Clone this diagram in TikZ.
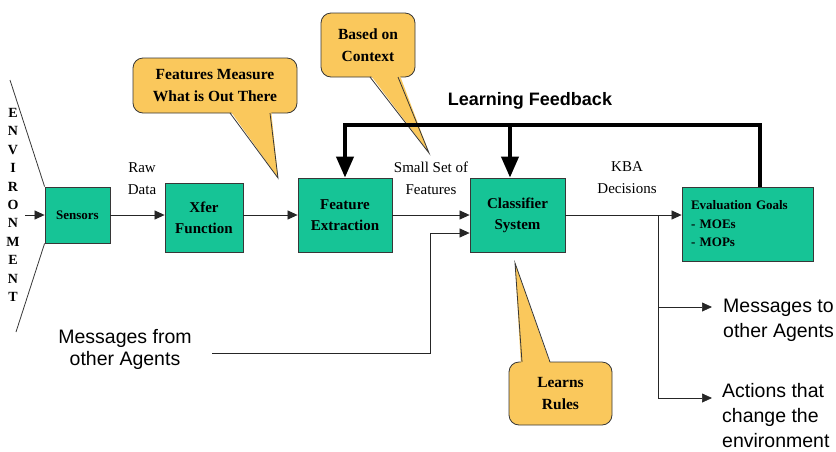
\documentclass[tikz,border=0pt]{standalone}
\usepackage{fontspec}
\setmainfont{Liberation Serif}
\setsansfont{Liberation Sans}
\usetikzlibrary{arrows.meta,calc}
\definecolor{boxgreen}{RGB}{22,196,150}
\definecolor{calloutfill}{RGB}{250,200,92}
\definecolor{edgecol}{RGB}{55,55,55}
\begin{document}
\begin{tikzpicture}[x=1pt,y=-1pt,
 box/.style={draw=edgecol, line width=0.8pt, fill=boxgreen, align=center, inner sep=0pt, font=\bfseries\fontsize{15}{21}\selectfont},
 arr/.style={draw=black!85, line width=0.7pt, -{Triangle[length=10pt,width=9pt]}},
 fb/.style={line width=4pt, black},
 fbarr/.style={fb, -{Triangle[length=21pt,width=17pt]}},
 lbl/.style={align=center, inner sep=0pt, font=\fontsize{15}{22}\selectfont},
 sans/.style={inner sep=0pt, font=\sffamily\fontsize{19.5}{25}\selectfont},
 cbox/.style={draw=edgecol, fill=calloutfill, rounded corners=10pt, line width=0.8pt, align=center, inner sep=0pt, font=\bfseries\fontsize{15.5}{22}\selectfont},
 tailfill/.style={fill=calloutfill},
 tailline/.style={draw=edgecol, line width=0.8pt},
 envletter/.style={inner sep=0pt, font=\bfseries\fontsize{14}{14}\selectfont}]

\useasboundingbox (0,0) rectangle (836,451);

% ---- callouts ----
\node[cbox, minimum width=164, minimum height=55] (fm) at (215,85.5) {Features Measure\\What is Out There};
\coordinate (fmtip) at (278,178);
\fill[tailfill] (229,109) -- (fmtip) -- (271,109) -- cycle;
\draw[tailline] (230,113) -- (fmtip) -- (270,113);

\node[cbox, minimum width=94, minimum height=64] (bc) at (368,45) {Based on\\Context};
\coordinate (bctip) at (429,153);
\fill[tailfill] (369,73) -- (bctip) -- (399,73) -- cycle;
\draw[tailline] (370,77) -- (bctip) -- (398,77);

\node[cbox, minimum width=103, minimum height=63] (lr) at (560.5,393.5) {Learns\\Rules};
\coordinate (lrtip) at (515,263);
\fill[tailfill] (521,366) -- (lrtip) -- (551,366) -- cycle;
\draw[tailline] (522,362) -- (lrtip) -- (550,362);

% ---- environment ----
\foreach \l [count=\i from 0] in {E,N,V,I,R,O,N,M,E,N,T}
  \node[envletter] (env\i) at (13,{113+18.4*\i}) {\l};

% ---- boxes ----
\node[box, minimum width=65, minimum height=56, font=\bfseries\fontsize{13}{16}\selectfont] (sens) at (77.5,215) {Sensors};
\node[box, minimum width=78, minimum height=69] (xfer) at (204,217.5) {Xfer\\Function};
\node[box, minimum width=94, minimum height=74] (fe) at (345,215) {Feature\\Extraction};
\node[box, minimum width=95, minimum height=74] (cls) at (517.5,215) {Classifier\\System};
\node[box, minimum width=131, minimum height=74, align=left, text width=113, font=\bfseries\fontsize{13}{18.5}\selectfont] (eval) at (747.5,224) {Evaluation Goals\\- MOEs\\- MOPs};

\draw[edgecol, line width=0.8pt] (10,80) -- (sens.north west);
\draw[edgecol, line width=0.8pt] (sens.south west) -- (16,332);

% ---- labels ----
\node[lbl] (raw) at (142,179) {Raw\\Data};
\node[lbl] (sset) at (431,178) {Small Set of\\Features};
\node[lbl] (kba) at (627,178) {KBA\\Decisions};
\node[inner sep=0pt, font=\sffamily\bfseries\fontsize{18}{22}\selectfont] (lf) at (530,101) {Learning Feedback};
\node[sans, align=center, font=\sffamily\fontsize{19.5}{22}\selectfont] (mfrom) at (125,349) {Messages from\\other Agents};
\node[sans, align=left, anchor=west] (mto) at (723,320) {Messages to\\other Agents};
\node[sans, align=left, anchor=west] (act) at (722,416) {Actions that\\change the\\environment};

% ---- connectors ----
\coordinate (envin) at (25,215);
\draw[arr] (envin) -- (sens.west);
\draw[arr] (sens.east) -- (sens.east -| xfer.west);
\draw[arr] (xfer.east |- fe.west) -- (fe.west);
\draw[arr] (fe.east) -- (cls.west);
\draw[arr] (cls.east) -- (cls.east -| eval.west);

\coordinate (m1) at (212,353);
\coordinate (m2) at (430,353);
\draw[arr] (m1) -- (m2) |- ($(cls.west)+(0,18)$);

\coordinate (split) at (658,215);
\coordinate (t1) at (712,307);
\coordinate (t2) at (712,398);
\draw[arr] (split) |- (t1);
\draw[arr] (split) |- (t2);

% ---- learning feedback ----
\coordinate (fbR) at (760,125);
\coordinate (fbL) at (345,125);
\coordinate (fbM) at (510,125);
\draw[fbarr] ($(eval.north)+(12.5,0)$) -- (fbR) -- (fbL) -- (fe.north);
\draw[fbarr] (fbM) -- ($(cls.north)+(-7.5,0)$);
\end{tikzpicture}
\end{document}
